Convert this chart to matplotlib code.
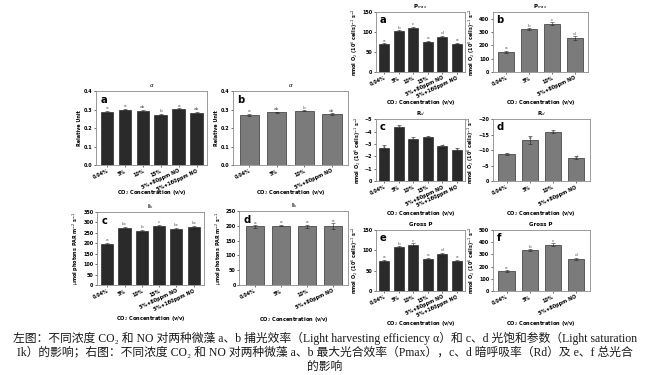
import matplotlib.pyplot as plt
import numpy as np

# categories
cats6 = ["0.04%", "5%", "10%", "15%", "5%+80ppm NO", "5%+160ppm NO"]
cats4 = ["0.04%", "5%", "10%", "5%+80ppm NO"]

# left figure: alpha and Ik
alpha_a = [0.287, 0.300, 0.293, 0.273, 0.302, 0.280]
alpha_a_err = [0.006, 0.004, 0.005, 0.004, 0.004, 0.006]
alpha_a_lab = ["a", "a", "ab", "b", "a", "ab"]
alpha_b = [0.270, 0.285, 0.293, 0.275]
alpha_b_err = [0.007, 0.003, 0.003, 0.004]
alpha_b_lab = ["a", "ab", "b", "ab"]
ik_c = [197, 275, 260, 283, 268, 276]
ik_c_err = [6, 5, 5, 4, 4, 6]
ik_c_lab = ["a", "bc", "b", "c", "bc", "bc"]
ik_d = [198, 201, 199, 200]
ik_d_err = [4, 3, 5, 9]
ik_d_lab = ["a", "a", "a", "a"]

# right figure: Pmax, Rd, Gross P
pmax_a = [70, 102, 110, 76, 88, 71]
pmax_a_err = [2, 2, 3, 2, 3, 2]
pmax_b = [152, 322, 362, 255]
pmax_b_err = [8, 7, 12, 12]
rd_c = [-2.7, -4.35, -3.4, -3.55, -2.8, -2.5]
rd_c_err = [0.2, 0.15, 0.15, 0.12, 0.15, 0.2]
rd_d = [-8.7, -13.2, -16.0, -7.6]
rd_d_err = [0.4, 1.3, 0.4, 0.6]
gp_e = [73, 107, 114, 79, 90, 73]
gp_e_err = [3, 3, 3, 3, 3, 3]
gp_f = [160, 335, 378, 262]
gp_f_err = [8, 6, 12, 12]
lab6 = ["a", "b", "c", "a", "d", "a"]
lab4 = ["a", "b", "c", "d"]

dark = "#2a2a2a"
grey = "#7b7b7b"
o2_label = r"nmol O$_2$ (10$^6$ cells)$^{-1}$ s$^{-1}$"
ik_label = r"$\mu$mol photons PAR m$^{-2}$ s$^{-1}$"


def panel(fig, rect, cats, vals, errs, labs, color, letter, title, ylim, yticks,
          ylabel, xlab_y, fs=3.2):
    ax = fig.add_axes(rect)
    x = np.arange(len(cats))
    ax.bar(x, vals, width=0.7, color=color, edgecolor="#111111", linewidth=0.4)
    ax.errorbar(x, vals, yerr=errs, fmt="none", ecolor="#222222",
                elinewidth=0.4, capsize=1.2, capthick=0.4)
    span = abs(ylim[1] - ylim[0])
    for xi, v, e, l in zip(x, vals, errs, labs):
        off = (abs(v) + e + span * 0.01) * np.sign(v)
        ax.text(xi, off, l, ha="center", va="bottom" if v > 0 else "top",
                fontsize=fs, color="#555555")
    ax.set_xlim(-0.6, len(cats) - 0.4)
    ax.set_ylim(*ylim)
    ax.set_yticks(yticks)
    ax.set_xticks(x)
    ax.set_xticklabels(cats, rotation=25, ha="right", rotation_mode="anchor",
                       fontsize=fs + 0.3, fontweight="bold")
    ax.tick_params(axis="y", labelsize=fs + 0.3, length=1.5, width=0.4, pad=1)
    ax.tick_params(axis="x", length=1.5, width=0.4, pad=1)
    for lbl in ax.get_yticklabels():
        lbl.set_fontweight("bold")
    for s in ax.spines.values():
        s.set_color("#8a8a8a")
        s.set_linewidth(0.6)
    ax.set_title(title, fontsize=fs + 0.8, fontweight="bold", pad=3)
    ax.set_ylabel(ylabel, fontsize=fs + 0.3, fontweight="bold", labelpad=1.5)
    ax.set_xlabel(r"CO$_2$ Concentration (v/v)", fontsize=fs + 0.5,
                  fontweight="bold")
    ax.xaxis.set_label_coords(0.5, xlab_y)
    ax.text(0.04, 0.95, letter, transform=ax.transAxes, fontsize=fs + 4,
            fontweight="bold", va="top", ha="left")
    return ax


fig = plt.figure(figsize=(6.5, 3.75), dpi=100)

# left figure
panel(fig, [0.148, 0.56, 0.171, 0.197], cats6, alpha_a, alpha_a_err, alpha_a_lab,
      dark, "a", r"$\alpha$", (0, 0.4), [0, 0.1, 0.2, 0.3, 0.4], "Relative Unit", -0.31)
panel(fig, [0.358, 0.56, 0.178, 0.197], cats4, alpha_b, alpha_b_err, alpha_b_lab,
      grey, "b", r"$\alpha$", (0, 0.4), [0, 0.1, 0.2, 0.3, 0.4], "Relative Unit", -0.31)
panel(fig, [0.149, 0.24, 0.165, 0.195], cats6, ik_c, ik_c_err, ik_c_lab,
      dark, "c", r"I$_k$", (0, 350), range(0, 351, 50), ik_label, -0.40)
panel(fig, [0.368, 0.24, 0.168, 0.197], cats4, ik_d, ik_d_err, ik_d_lab,
      grey, "d", r"I$_k$", (0, 250), range(0, 251, 50), ik_label, -0.40)

# right figure
panel(fig, [0.578, 0.808, 0.138, 0.16], cats6, pmax_a, pmax_a_err, lab6,
      dark, "a", r"P$_{max}$", (0, 150), [0, 50, 100, 150], o2_label, -0.43)
panel(fig, [0.758, 0.808, 0.147, 0.16], cats4, pmax_b, pmax_b_err, lab4,
      grey, "b", r"P$_{max}$", (0, 450), [0, 100, 200, 300, 400], o2_label, -0.43)
panel(fig, [0.578, 0.517, 0.138, 0.165], cats6, rd_c, rd_c_err, lab6,
      dark, "c", r"R$_d$", (0, -5), [0, -1, -2, -3, -4, -5], o2_label, -0.45)
panel(fig, [0.758, 0.517, 0.149, 0.165], cats4, rd_d, rd_d_err, lab4,
      grey, "d", r"R$_d$", (0, -20), [0, -5, -10, -15, -20], o2_label, -0.45)
panel(fig, [0.578, 0.224, 0.138, 0.163], cats6, gp_e, gp_e_err, lab6,
      dark, "e", "Gross P", (0, 150), [0, 50, 100, 150], o2_label, -0.45)
panel(fig, [0.758, 0.224, 0.149, 0.163], cats4, gp_f, gp_f_err, lab4,
      grey, "f", "Gross P", (0, 500), [0, 100, 200, 300, 400, 500], o2_label, -0.45)

cap_font = ["Liberation Serif", "DejaVu Serif", "Noto Sans CJK SC"]
caption = [
    "左图：不同浓度 CO₂ 和 NO 对两种微藻 a、b 捕光效率（Light harvesting efficiency α）和 c、d 光饱和参数（Light saturation",
    "Ik）的影响；右图：不同浓度 CO₂ 和 NO 对两种微藻 a、b 最大光合效率（Pmax），c、d 暗呼吸率（Rd）及 e、f 总光合",
    "的影响",
]
for i, line in enumerate(caption):
    fig.text(0.5, 1 - (338 + 15 * i) / 375, line, ha="center", va="center",
             fontsize=8.5, family=cap_font, color="#1a1a1a")

fig.savefig("out.png", dpi=100)
